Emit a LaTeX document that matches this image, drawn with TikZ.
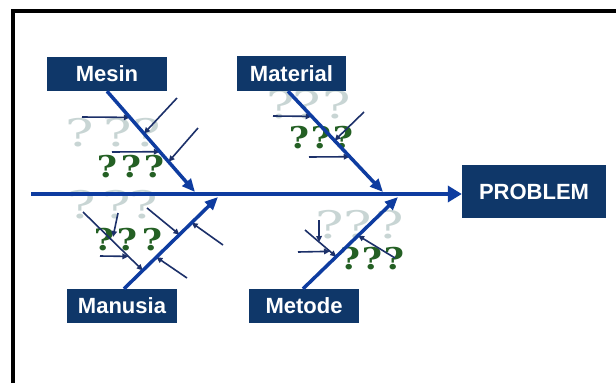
\documentclass[tikz,border=0pt]{standalone}
\usepackage{fontspec}
\setmainfont{Liberation Sans}
\newfontfamily\qfont{DejaVu Serif}
\usetikzlibrary{arrows.meta}
\definecolor{boxblue}{RGB}{15,55,105}
\definecolor{bonblue}{RGB}{14,60,160}
\definecolor{arrnavy}{RGB}{28,48,105}
\definecolor{qgreen}{RGB}{36,96,36}
\definecolor{qlight}{RGB}{200,213,212}
\tikzset{
 catbox/.style={fill=boxblue, text=white, font=\bfseries\fontsize{22}{24}\selectfont, inner sep=0pt, minimum height=34pt},
 spine/.style={draw=bonblue, line width=4.5pt, -{Triangle[length=14pt,width=16pt]}},
 bone/.style={draw=bonblue, line width=3.5pt, -{Triangle[length=13pt,width=11pt]}},
 sub/.style={draw=arrnavy, line width=1.6pt, -{Triangle[length=6pt,width=5.5pt]}},
 qlt/.style={text=qlight, font=\qfont\fontsize{38}{38}\selectfont, xscale=1.4, inner sep=0pt},
 qgr/.style={text=qgreen, font=\qfont\bfseries\fontsize{30}{30}\selectfont, xscale=1.15, inner sep=0pt},
 frame/.style={draw=black, line width=4pt},
}
\begin{document}
\begin{tikzpicture}[x=1pt,y=-1pt]
\useasboundingbox (0,0) rectangle (616,383);
\fill[white] (0,0) rectangle (616,383);
\draw[frame] (12.5,383) -- (12.5,11) -- (616,11);

% light question marks
\foreach \x [count=\i] in {80,118,147} \node[qlt] (lMe\i) at (\x,133) {?};
\foreach \x [count=\i] in {281,307,337} \node[qlt] (lMt\i) at (\x,105) {?};
\foreach \x [count=\i] in {82,117,144} \node[qlt] (lMa\i) at (\x,205) {?};
\foreach \x [count=\i] in {330,358,390} \node[qlt] (lMo\i) at (\x,225) {?};
% green question marks
\foreach \x [count=\i] in {107,131,154} \node[qgr] (gMe\i) at (\x,167) {?};
\foreach \x [count=\i] in {299,321,343} \node[qgr] (gMt\i) at (\x,138) {?};
\foreach \x [count=\i] in {104,127,152} \node[qgr] (gMa\i) at (\x,240) {?};
\foreach \x [count=\i] in {350,372,394} \node[qgr] (gMo\i) at (\x,259) {?};

% category boxes
\node[catbox, minimum width=120pt] (mesin) at (107,74) {Mesin};
\node[catbox, minimum width=109pt, minimum height=35pt] (material) at (291.5,73.5) {Material};
\node[catbox, minimum width=110pt] (manusia) at (122,306) {Manusia};
\node[catbox, minimum width=110pt] (metode) at (304,306) {Metode};
\node[catbox, minimum width=144pt, minimum height=53pt] (problem) at (534,191.5) {PROBLEM};

% spine and bone tips
\coordinate (sp) at (31,194);
\coordinate (tMe) at (195,192);
\coordinate (tMt) at (383,192);
\coordinate (tMa) at (218,197);
\coordinate (tMo) at (398,197);
\coordinate (bMt) at ([xshift=-3.5pt]material.south);
\coordinate (bMa) at ([xshift=2pt]manusia.north);
\coordinate (bMo) at ([xshift=-1pt]metode.north);

% points on bones
\path (mesin.south) -- (tMe) coordinate[pos=.26] (me1) coordinate[pos=.42] (me2) coordinate[pos=.60] (me3) coordinate[pos=.70] (me4);
\path (bMt) -- (tMt) coordinate[pos=.25] (mt1) coordinate[pos=.49] (mt2) coordinate[pos=.65] (mt3);
\path (bMa) -- (tMa) coordinate[pos=.20] (ma1) coordinate[pos=.59] (ma4) coordinate[pos=.72] (ma5) coordinate[pos=.345] (ma6);
\path (bMo) -- (tMo) coordinate[pos=.35] (mo1) coordinate[pos=.58] (mo4);

% sub-arrow start points
\coordinate (sMe1) at (82,117);
\coordinate (sMe2) at (177,98);
\coordinate (sMe3) at (112,152);
\coordinate (sMe4) at (198,128);
\coordinate (sMt1) at (273,116);
\coordinate (sMt2) at (364,112);
\coordinate (sMt3) at (309,157);
\coordinate (sMa1) at (83,212);
\coordinate (sMa2) at (118,213);
\coordinate (eMa2) at (113,237);
\coordinate (sMa3) at (100,256);
\coordinate (sMa4) at (147,208);
\coordinate (sMa5) at (223,245);
\coordinate (sMa6) at (187,278);
\coordinate (sMo1) at (305,230);
\coordinate (sMo2) at (319,220);
\coordinate (sMo3) at (298,252);
\coordinate (sMo4) at (395,258);
\path (sMa1) -- (ma1) coordinate[pos=.76] (ma3);
\path (sMo1) -- (mo1) coordinate[pos=.45] (mo2) coordinate[pos=.80] (mo3);

% sub-arrows
\draw[sub] (sMe1) -- (me1);
\draw[sub] (sMe2) -- (me2);
\draw[sub] (sMe3) -- (me3);
\draw[sub] (sMe4) -- (me4);
\draw[sub] (sMt1) -- (mt1);
\draw[sub] (sMt2) -- (mt2);
\draw[sub] (sMt3) -- (mt3);
\draw[sub] (sMa1) -- (ma1);
\draw[sub] (sMa2) -- (eMa2);
\draw[sub] (sMa3) -- (ma3);
\draw[sub] (sMa4) -- (ma4);
\draw[sub] (sMa5) -- (ma5);
\draw[sub] (sMa6) -- (ma6);
\draw[sub] (sMo1) -- (mo1);
\draw[sub] (sMo2) -- (mo2);
\draw[sub] (sMo3) -- (mo3);
\draw[sub] (sMo4) -- (mo4);

% bones
\draw[bone] (mesin.south) -- (tMe);
\draw[bone] (bMt) -- (tMt);
\draw[bone] (bMa) -- (tMa);
\draw[bone] (bMo) -- (tMo);
\draw[spine] (sp) -- (sp -| problem.west);
\end{tikzpicture}
\end{document}
